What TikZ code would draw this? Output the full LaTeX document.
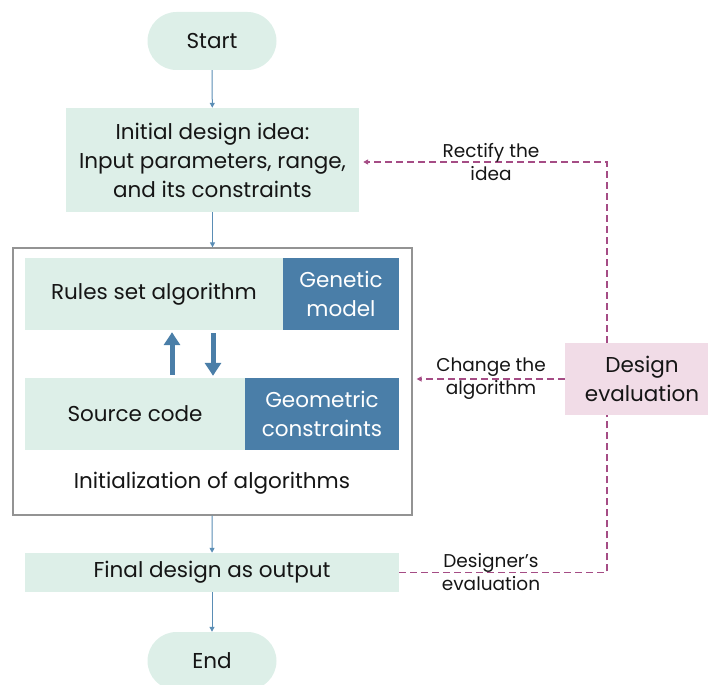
\documentclass[tikz,border=0pt]{standalone}
\usepackage{fontspec}
\setmainfont{Poppins}
\usetikzlibrary{arrows.meta}
\definecolor{paleteal}{HTML}{DDEFE8}
\definecolor{steelblue}{HTML}{4A7EA8}
\definecolor{flowblue}{HTML}{5A8DB5}
\definecolor{palepink}{HTML}{F1DCE7}
\definecolor{plum}{HTML}{A54C85}
\definecolor{inktext}{HTML}{151515}
\begin{document}
\begin{tikzpicture}[x=1pt, y=-1pt,
    every node/.style={text=inktext, font=\fontsize{21.5}{29}\selectfont, align=center, inner sep=0pt},
    pill/.style={fill=paleteal, rounded corners=29pt, minimum width=129pt, minimum height=58pt},
    stepbox/.style={fill=paleteal, minimum height=72pt},
    modelbox/.style={fill=steelblue, text=white, minimum height=72pt},
    note/.style={font=\fontsize{18.5}{23}\selectfont},
    flow/.style={draw=flowblue, line width=1pt, -{Triangle[length=5pt,width=5pt]}},
    bigflow/.style={draw=steelblue, line width=5pt, -{Triangle[length=13pt,width=16pt]}, shorten <=3pt, shorten >=2pt},
    feedback/.style={draw=plum, line width=1.3pt, dash pattern=on 7pt off 4pt, -{Triangle[length=5pt,width=5pt]}}
]
        \useasboundingbox (0,0) rectangle (708,684);

        % Define nodes for the main flow
        \node at (212, 41) (start) [pill] {Start};
        \node at (212.5, 160) (idea) [stepbox, minimum width=293pt, minimum height=104pt]
            {Initial design idea:\\Input parameters, range,\\and its constraints};
        \node at (212.5, 381.5) (outer) [draw=gray!85, line width=1.2pt, minimum width=399pt, minimum height=267pt] {};
        \node at (154, 294) (rules) [stepbox, minimum width=258pt] {Rules set algorithm};
        \node at (341, 294) (genetic) [modelbox, minimum width=116pt] {Genetic\\model};
        \node at (135, 414) (source) [stepbox, minimum width=220pt] {Source code};
        \node at (322, 414) (geometric) [modelbox, minimum width=154pt] {Geometric\\constraints};
        \node at (212, 483) (init) {Initialization of algorithms};
        \node at (212, 572.5) (final) [stepbox, minimum width=374pt, minimum height=39pt] {Final design as output};
        \node at (212, 661) (end) [pill] {End};

        % Evaluation box on the right
        \node at (642, 379) (evaluation) [fill=palepink, minimum width=154pt, minimum height=72pt] {Design\\evaluation};
        \coordinate (bend) at (607, 162);
        \coordinate (upx) at (172, 0);
        \coordinate (downx) at (213, 0);

        % Draw edges
        \draw[flow] (start) -- (idea);
        \draw[flow] (idea) -- (outer);
        \draw[flow] (outer) -- (final);
        \draw[flow] (final) -- (end);
        \draw[bigflow] (upx |- source.north) -- (upx |- rules.south);
        \draw[bigflow] (downx |- rules.south) -- (downx |- source.north);

        % Feedback loops
        \draw[feedback, shorten >=4pt] (bend |- evaluation.north) -- (bend) -- (idea.east |- bend);
        \draw[feedback, shorten >=4pt] (evaluation.west) -- (evaluation.west -| outer.east);
        \draw[feedback, arrows=-] (final.east) -| (bend |- evaluation.south);
        \node at (491, 162) (rectify) [note] {Rectify the\\idea};
        \node at (491, 379) (change) [note] {Change the\\algorithm};
        \node at (491, 572) (designer) [note] {Designer’s\\evaluation};
\end{tikzpicture}
\end{document}
